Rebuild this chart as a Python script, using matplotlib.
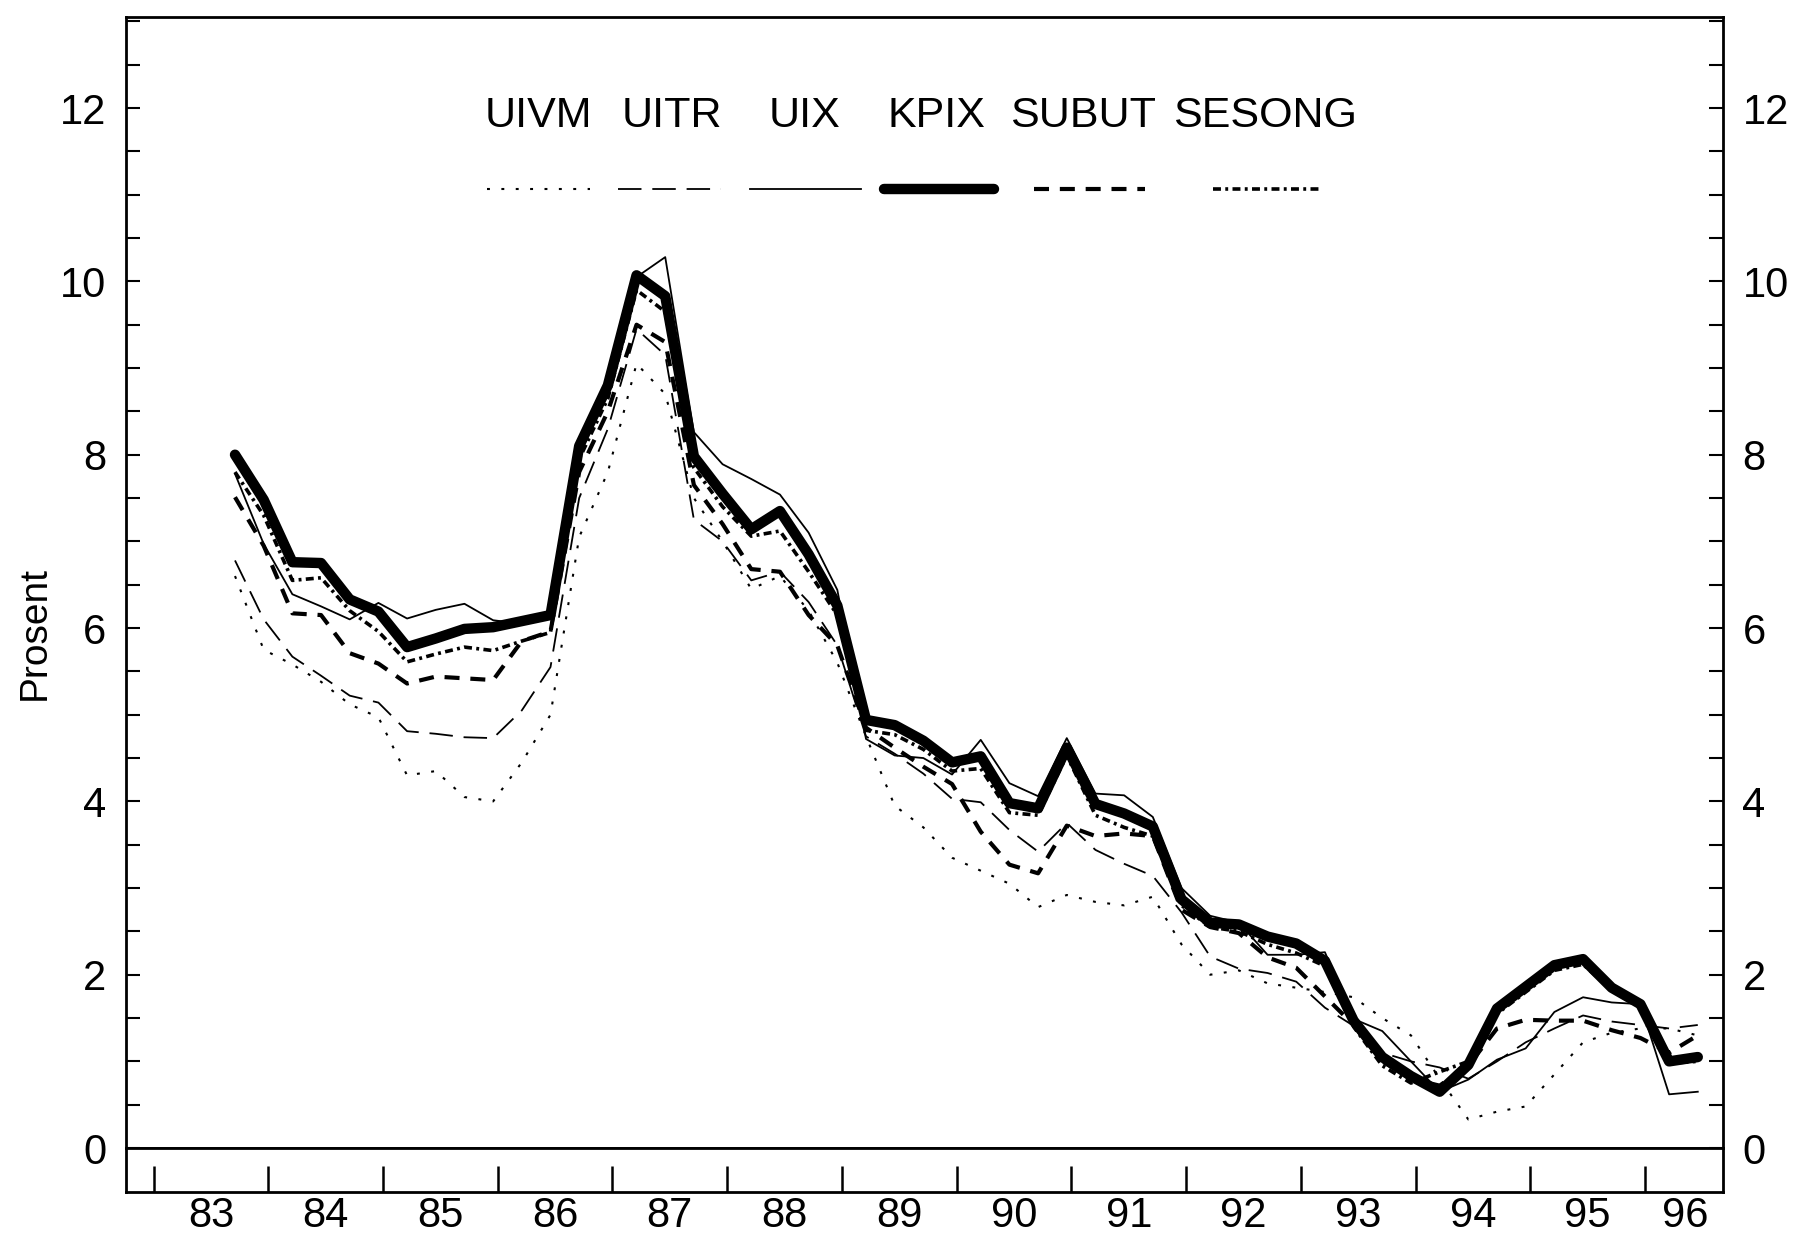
import numpy as np
import matplotlib.pyplot as plt
from matplotlib.lines import Line2D
from matplotlib.ticker import MultipleLocator

plt.rcParams['font.family'] = ['Liberation Sans', 'DejaVu Sans']

# quarterly observations, 1983 Q3 .. 1996 Q2
quarters = np.arange(52)
x = 83.71 + 0.25 * quarters

uivm = [6.6, 5.75, 5.58, 5.38, 5.12, 4.97, 4.3, 4.35, 4.05, 4.0, 4.45, 5.0,
        7.05, 7.8, 9.05, 8.7, 7.5, 7.0, 6.45, 6.6, 6.2, 5.6,
        4.75, 3.95, 3.7, 3.35, 3.2, 3.05, 2.78, 2.92, 2.84, 2.8, 2.9,
        2.35, 2.0, 2.05, 1.9, 1.85, 1.8, 1.74, 1.5, 1.3,
        0.8, 0.33, 0.42, 0.48, 0.85, 1.22, 1.33, 1.38, 1.38, 1.3]
uitr = [6.78, 6.1, 5.67, 5.45, 5.22, 5.14, 4.81, 4.78, 4.74, 4.73, 5.05, 5.55,
        7.5, 8.3, 9.45, 9.15, 7.25, 7.0, 6.55, 6.65, 6.3, 5.8,
        4.75, 4.55, 4.32, 4.03, 3.99, 3.67, 3.42, 3.75, 3.44, 3.28, 3.14,
        2.72, 2.21, 2.07, 2.02, 1.92, 1.62, 1.41, 1.1, 1.0,
        0.93, 0.8, 1.0, 1.22, 1.38, 1.53, 1.46, 1.42, 1.38, 1.42]
uix = [7.78, 6.97, 6.39, 6.25, 6.10, 6.29, 6.11, 6.21, 6.28, 6.09, 6.05, 6.12,
       8.0, 8.75, 10.05, 10.28, 8.26, 7.89, 7.72, 7.54, 7.10, 6.44,
       4.72, 4.53, 4.50, 4.31, 4.71, 4.21, 4.06, 4.73, 4.09, 4.07, 3.82,
       3.0, 2.68, 2.6, 2.23, 2.23, 2.26, 1.49, 1.35, 1.0,
       0.65, 0.79, 1.02, 1.15, 1.57, 1.74, 1.68, 1.66, 0.62, 0.65]
kpix = [8.0, 7.48, 6.76, 6.75, 6.33, 6.19, 5.78, 5.88, 5.99, 6.01, 6.08, 6.15,
        8.1, 8.8, 10.07, 9.83, 7.98, 7.55, 7.14, 7.35, 6.85, 6.26,
        4.94, 4.88, 4.70, 4.45, 4.52, 3.98, 3.92, 4.62, 3.97, 3.86, 3.71,
        2.87, 2.60, 2.58, 2.44, 2.36, 2.16, 1.47, 1.05, 0.83,
        0.65, 0.96, 1.61, 1.86, 2.11, 2.18, 1.85, 1.66, 1.00, 1.05]
subut = [7.51, 6.95, 6.17, 6.15, 5.71, 5.59, 5.36, 5.44, 5.42, 5.40, 5.85, 5.96,
         7.8, 8.5, 9.5, 9.3, 7.65, 7.2, 6.68, 6.65, 6.15, 5.8,
         4.85, 4.62, 4.4, 4.2, 3.65, 3.27, 3.17, 3.72, 3.6, 3.63, 3.6,
         2.75, 2.55, 2.48, 2.2, 2.08, 1.75, 1.42, 1.0, 0.8,
         0.72, 0.95, 1.38, 1.48, 1.47, 1.47, 1.36, 1.27, 1.1, 1.3]
sesong = [7.8, 7.3, 6.55, 6.58, 6.2, 5.96, 5.61, 5.7, 5.78, 5.74, 5.85, 5.95,
          7.95, 8.65, 9.9, 9.65, 7.85, 7.4, 7.06, 7.12, 6.65, 6.15,
          4.82, 4.77, 4.6, 4.35, 4.38, 3.87, 3.84, 4.53, 3.84, 3.70, 3.6,
          2.8, 2.55, 2.5, 2.35, 2.25, 2.1, 1.4, 0.95, 0.75,
          0.88, 1.0, 1.55, 1.8, 2.05, 2.12, 1.82, 1.62, 0.98, 1.0]

names = ['UIVM', 'UITR', 'UIX', 'KPIX', 'SUBUT', 'SESONG']
series = [uivm, uitr, uix, kpix, subut, sesong]
years = list(range(83, 97))

styles = {
    'UIVM': dict(lw=1.5, dashes=(1.4, 5.5)),
    'UITR': dict(lw=1.3, dashes=(13, 6)),
    'UIX': dict(lw=1.3),
    'KPIX': dict(lw=7.5, solid_capstyle='round', solid_joinstyle='round'),
    'SUBUT': dict(lw=3.0, dashes=(3.6, 2.6)),
    'SESONG': dict(lw=2.6, dashes=(2.2, 1.2, 0.8, 1.2)),
}

fig = plt.figure(figsize=(17.95, 12.35), dpi=100)
ax = fig.add_axes([0.0702, 0.0704, 0.8897, 0.9158])
box = fig.add_axes([0.0702, 0.0348, 0.8897, 0.0356])

for name, vals in zip(names, series):
    ax.plot(x, vals, color='black', **styles[name])

ax.set_xlim(82.76, 96.68)
ax.set_ylim(0, 13.05)
ax.yaxis.set_major_locator(MultipleLocator(2))
ax.yaxis.set_minor_locator(MultipleLocator(0.5))
ax.tick_params(axis='y', which='both', direction='in', left=True, right=True,
               labelleft=True, labelright=True, length=10, width=1.5,
               labelsize=30, pad=14)
ax.tick_params(axis='x', which='both', bottom=False, labelbottom=False)
for s in ax.spines.values():
    s.set_linewidth(2)
ax.set_ylabel('Prosent', fontsize=28)
ax.yaxis.set_label_coords(-0.046, 0.455)

# year box under the zero line
box.set_xlim(82.76, 96.68)
box.set_ylim(0, 1)
box.set_yticks([])
box.set_xticks(years)
box.set_xticklabels([])
label_pos = [y + 0.5 for y in years[:-1]] + [96.35]
box.set_xticks(label_pos, minor=True)
box.set_xticklabels([str(y) for y in years], minor=True)
box.tick_params(axis='x', which='major', direction='in', length=19, width=1.8)
box.tick_params(axis='x', which='minor', length=0, labelsize=30, pad=3)
for s in box.spines.values():
    s.set_linewidth(2)

# legend: names above short line samples
text_x = [538, 672, 805, 936, 1083, 1265]
line_x = [(487, 590), (618, 721), (750, 861), (884, 994), (1034, 1145), (1213, 1322)]
W, H = 1795, 1235
for name, tx, (x0, x1) in zip(names, text_x, line_x):
    fig.text(tx / W, 1 - 116 / H, name, ha='center', va='center',
             fontsize=31, family=['Liberation Sans Narrow', 'Liberation Sans'])
    fig.add_artist(Line2D([x0 / W, x1 / W], [1 - 189 / H, 1 - 189 / H],
                          transform=fig.transFigure, color='black', **styles[name]))

fig.savefig('out.png', dpi=100)
